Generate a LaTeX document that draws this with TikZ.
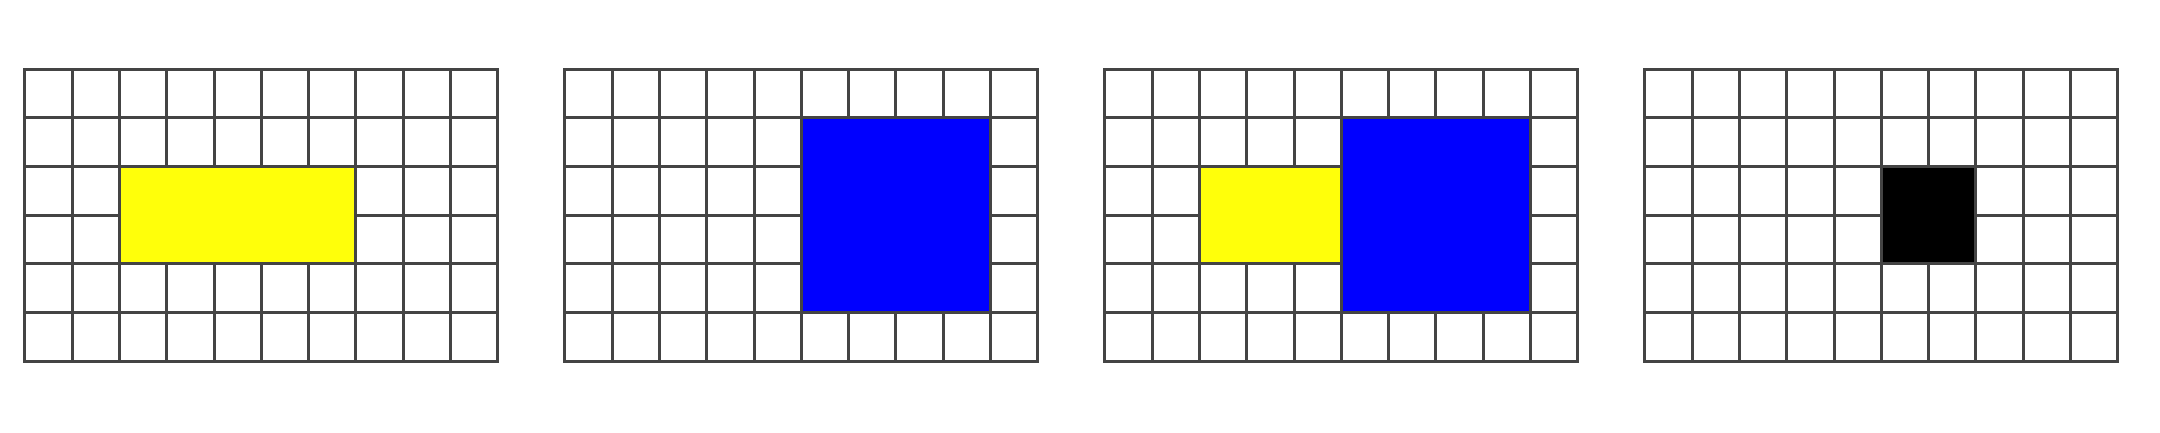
\documentclass[tikz,border=0pt]{standalone}
\usepackage{xcolor}
\usepackage{tikz}
\usetikzlibrary{positioning}
\definecolor{gridgray}{RGB}{68, 68, 68}
\definecolor{cellyellow}{RGB}{255, 255, 10}
\definecolor{cellblue}{RGB}{0, 0, 255}

\begin{document}
\begin{tikzpicture}[x=0.473cm, y=0.487cm,
        gridline/.style={draw=gridgray, line width=0.85pt},
        cellbox/.style={draw=gridgray, line width=0.85pt}]
            \useasboundingbox (0cm,0cm) rectangle (21.6cm,4.32cm);

            % Gitter
            \foreach \i in {0,...,3} {
                \begin{scope}[xshift={0.248cm+\i*5.4cm}, yshift=0.708cm]
                    \foreach \c in {1,...,9} \draw[gridline] (\c,0) -- (\c,6);
                    \foreach \r in {1,...,5} \draw[gridline] (0,\r) -- (10,\r);
                    \draw[gridline] (0,0) rectangle (10,6);
                \end{scope}
            }

            % Felder
            \begin{scope}[xshift=0.248cm, yshift=0.708cm]
                \filldraw[cellbox, fill=cellyellow] (2,2) rectangle (7,4);
            \end{scope}
            \begin{scope}[xshift=5.648cm, yshift=0.708cm]
                \filldraw[cellbox, fill=cellblue] (5,1) rectangle (9,5);
            \end{scope}
            \begin{scope}[xshift=11.048cm, yshift=0.708cm]
                \filldraw[cellbox, fill=cellyellow] (2,2) rectangle (5,4);
                \filldraw[cellbox, fill=cellblue] (5,1) rectangle (9,5);
            \end{scope}
            \begin{scope}[xshift=16.448cm, yshift=0.708cm]
                \filldraw[cellbox, fill=black] (5,2) rectangle (7,4);
            \end{scope}
        \end{tikzpicture}
\end{document}
